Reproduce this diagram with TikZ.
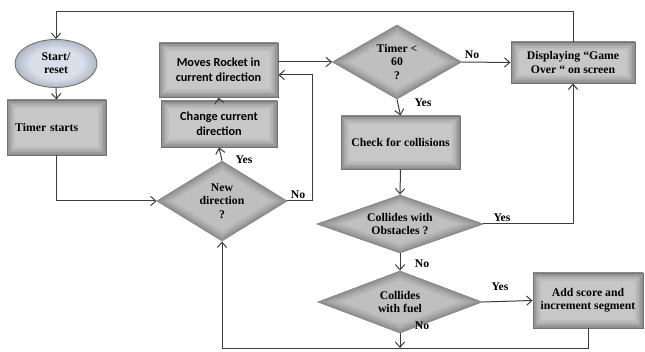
\documentclass[tikz,border=0pt]{standalone}
\usepackage{fontspec}
\setmainfont{Liberation Serif}
\newfontfamily\labelsans{Carlito}
\usetikzlibrary{shapes.geometric,arrows.meta,calc}
\definecolor{linegray}{HTML}{3C3C3C}
\definecolor{ovalin}{HTML}{D8DFE9}
\definecolor{ovalout}{HTML}{AEB8C5}
% flat centre, darker rim for the terminal oval
\pgfdeclareradialshading{ovalglow}{\pgfpoint{0bp}{0bp}}{%
  color(0bp)=(ovalin); color(16bp)=(ovalin); color(25bp)=(ovalout); color(50bp)=(ovalout)}
\begin{document}
\begin{tikzpicture}[x=0.75pt,y=-0.75pt,
  every node/.style={font=\bfseries\fontsize{8.8}{10}\selectfont, text=black},
  sanslabel/.style={font=\labelsans\bfseries\fontsize{9.2}{11}\selectfont},
  % sizes are given in drawing units (1 unit = 0.75pt)
  size/.style 2 args={minimum width={#1*0.75pt}, minimum height={#2*0.75pt}},
  % darker inner rim fading towards the centre
  rectglow/.style={path picture={
    \foreach \w/\c in {12/26,9/30,6.5/35,4/40,2/45}
      \draw[line width=\w pt, black!\c] (path picture bounding box.south west)
        rectangle (path picture bounding box.north east);}},
  diamglow/.style={path picture={
    \foreach \w/\c in {12/29,9/32,6.5/36,4/40,2/44}
      \draw[line width=\w pt, black!\c] (path picture bounding box.north)
        -- (path picture bounding box.east) -- (path picture bounding box.south)
        -- (path picture bounding box.west) -- cycle;}},
  procbox/.style={rectangle, draw=black!55, fill=black!22, line width=0.7pt,
    inner sep=0pt, align=center, rectglow},
  decision/.style={diamond, draw=black!45, fill=black!25, line width=0.6pt,
    inner sep=0pt, aspect=2, align=center, diamglow},
  terminal/.style={ellipse, draw=black!55, shading=ovalglow, line width=0.7pt,
    inner sep=0pt, align=center},
  arr/.style={draw=linegray, line width=0.75pt, -{Straight Barb[length=4pt,width=7pt]}},
  lbl/.style={inner sep=1pt}
]
\useasboundingbox (0,0) rectangle (645,352);

% process boxes and decisions
\node[terminal, size={82}{48}] (start) at (56,63.5) {Start/\\reset};
\node[procbox, size={99}{55}, align=left, text width=62pt] (timer) at (56.5,127.5) {Timer starts};
\node[decision, size={130}{80}] (newdir) at (222,201) {New\\direction\\?};
\node[procbox, sanslabel, size={116}{46}] (change) at (219,124) {Change current\\direction};
\node[procbox, sanslabel, size={119}{54}] (moves) at (218.5,70) {Moves Rocket in\\current direction};
\node[decision, size={129}{74}] (t60) at (397,62) {Timer <\\60\\?};
\node[procbox, size={124}{41}] (over) at (573,62.5) {Displaying “Game\\Over “ on screen};
\node[procbox, size={119}{53}] (check) at (400.5,142.5) {Check for collisions};
\node[decision, size={166}{58}] (obst) at (400,224) {Collides with\\Obstacles ?};
\node[decision, size={164}{62}] (fuel) at (400,302) {Collides\\with fuel};
\node[procbox, size={110}{55}] (add) at (588,300.5) {Add score and\\increment segment};

% routing points
\coordinate (top) at (56,12);
\coordinate (noret) at (312,75);
\coordinate (bot) at (0,348);

% connectors
\draw[arr] (over.north) |- (top) -- (start.north);
\draw[arr] (start.south) -- (timer.north);
\draw[arr] (timer.south) |- (newdir.west);
\draw[arr] (newdir.north) -- (change.south);
\node[lbl] (yes1) at (244,160) {Yes};
\draw[arr] (change.north) -- (moves.south);
\draw[arr] (newdir.east) -| (noret) -- (moves.east |- noret);
\node[lbl] (no1) at (298,195) {No};
\draw[arr] (moves.east |- t60.west) -- (t60.west);
\draw[arr] (t60.east) -- (over.west);
\node[lbl] (no2) at (472,55) {No};
\draw[arr] (t60.south) -- (check.north);
\node[lbl] (yes2) at (423,103) {Yes};
\draw[arr] (check.south) -- (obst.north);
\draw[arr] (obst.east) -| (over.south);
\node[lbl] (yes3) at (502,218) {Yes};
\draw[arr] (obst.south) -- (fuel.north);
\node[lbl] (no3) at (422,264) {No};
\draw[arr] (fuel.east) -- (add.west);
\node[lbl] (yes4) at (500,287) {Yes};
\draw[arr] (fuel.south) -- (fuel.south |- bot);
\node[lbl] (no4) at (422,326) {No};
\draw[arr] (add.south) |- (newdir.south |- bot) -- (newdir.south);
\end{tikzpicture}
\end{document}
